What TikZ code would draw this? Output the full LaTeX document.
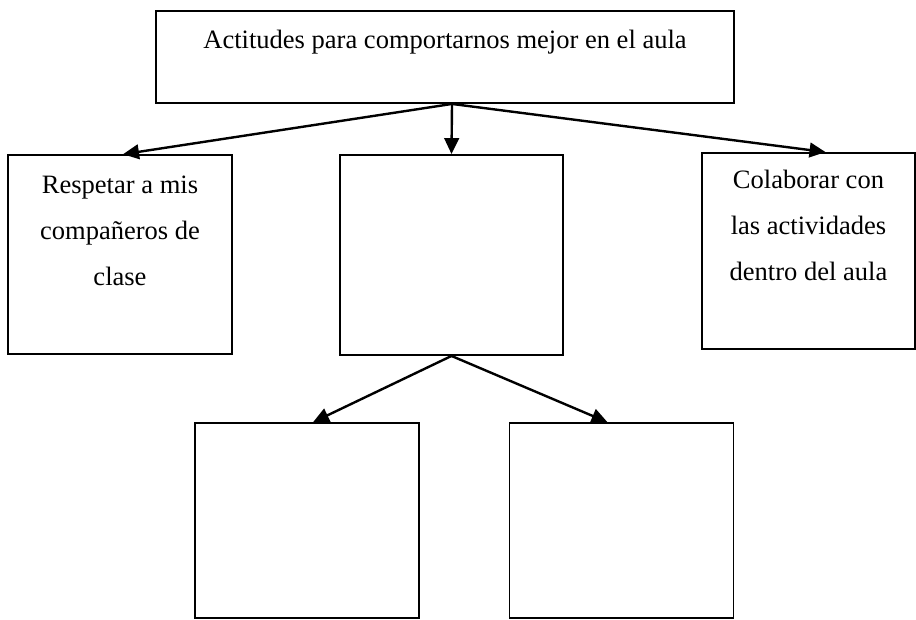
\documentclass[tikz,border=0pt]{standalone}
\usepackage{fontspec}
\setmainfont{Liberation Serif}
\usetikzlibrary{positioning,calc,arrows.meta}

\begin{document}
\begin{tikzpicture}[
        x=0.75pt, y=-0.75pt,
        box/.style={rectangle, draw, line width=1.4pt, inner sep=0pt},
        wide box/.style={box, minimum width=168pt, minimum height=149pt},
        low box/.style={box, minimum width=168pt, minimum height=146pt},
        box text/.style={align=center, inner sep=0pt, font=\fontsize{19.9}{34.5}\selectfont},
        link/.style={-{Triangle[length=12pt, width=11pt]}, line width=1.8pt}
    ]
        \useasboundingbox (0,0) rectangle (916,619);

        % Title
        \node[box, minimum width=433.5pt, minimum height=69pt] (title) at (445,57) {};
        \node[box text, below=14.5pt of title.north] (title_txt) {Actitudes para comportarnos mejor en el aula};

        % Second row
        \node[wide box] (resp) at (120,254.5) {};
        \node[box text, below=16pt of resp.north] (resp_txt) {Respetar a mis\\compañeros de\\clase};

        \node[wide box, minimum width=167pt, minimum height=150pt] (mid) at (451.5,255) {};

        \node[box, minimum width=160pt, minimum height=147pt] (colab) at (808.5,251) {};
        \node[box text, below=13.5pt of colab.north] (colab_txt) {Colaborar con\\las actividades\\dentro del aula};

        % Third row
        \node[low box] (bl) at (307,520.5) {};
        \node[low box] (br) at (621.5,520.5) {};

        % Arrows
        \coordinate (fork) at ($(title.south)+(7,0)$);
        \draw[link] (fork) -- ($(resp.north)+(3,0)$);
        \draw[link] (fork) -- (mid.north);
        \draw[link] (fork) -- ($(colab.north)+(17,0)$);

        \draw[link] (mid.south) -- ($(bl.north)+(6,0)$);
        \draw[link] (mid.south) -- ($(br.north)+(-14,0)$);

    \end{tikzpicture}
\end{document}
